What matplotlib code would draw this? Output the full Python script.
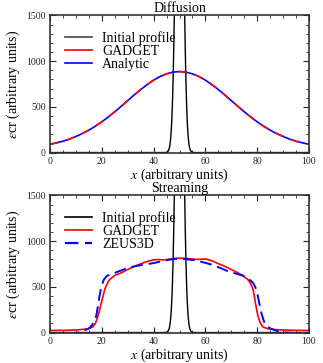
import numpy as np
import matplotlib
matplotlib.use("Agg")
import matplotlib.pyplot as plt
from matplotlib.lines import Line2D

plt.rcParams['font.family'] = ['Liberation Serif', 'DejaVu Serif']
plt.rcParams['mathtext.fontset'] = 'stix'

# ---- data ----
# initial profile (narrow peak at x=50)
init_x = [0, 44.5, 45, 45.25, 45.5, 45.75, 46, 46.25, 46.5, 46.75, 47, 47.25, 47.5, 47.75,
          48, 48.25, 48.5, 48.75, 49, 49.25, 49.5, 49.75, 50, 50.25, 50.5, 50.75, 51, 51.25,
          51.5, 51.75, 52, 52.25, 52.5, 52.75, 53, 53.25, 53.5, 53.75, 54, 54.25, 54.5, 54.75,
          55, 55.5, 100]
init_y = [0, 0, 3, 6, 12, 23, 42, 74, 128, 211, 337, 518, 766, 1092,
          1500, 1984, 2529, 3105, 3673, 4185, 4594, 4858, 4950, 4858, 4594, 4185, 3673, 3105,
          2529, 1984, 1500, 1092, 766, 518, 337, 211, 128, 74, 42, 23, 12, 6,
          3, 0, 0]

# diffusion: GADGET and analytic solution
diff_x = [0, 2.5, 5, 7.5, 10, 12.5, 15, 17.5, 20, 22.5, 25, 27.5, 30, 32.5, 35, 37.5, 40,
          42.5, 45, 47.5, 50, 52.5, 55, 57.5, 60, 62.5, 65, 67.5, 70, 72.5, 75, 77.5, 80,
          82.5, 85, 87.5, 90, 92.5, 95, 97.5, 100]
diff_gadget = [90, 106, 124, 147, 176, 208, 245, 288, 336, 389, 446, 506, 568, 630, 689, 743,
               792, 832, 861, 880, 886, 880, 861, 832, 792, 743, 689, 630, 568, 506, 446, 389,
               336, 288, 245, 208, 176, 147, 124, 106, 90]
diff_analytic = [90, 106, 124, 147, 176, 208, 245, 288, 336, 389, 446, 506, 568, 630, 689, 743,
                 792, 832, 861, 880, 886, 880, 861, 832, 792, 743, 689, 630, 568, 506, 446, 389,
                 336, 288, 245, 208, 176, 147, 124, 106, 90]

# streaming: GADGET and ZEUS3D
str_gadget_x = [0, 5, 10, 14.7, 16.6, 17.6, 18.5, 19.2, 19.8, 20.5, 21.1, 22, 23, 25, 27.5, 30,
                32.7, 35, 37.8, 40, 41.7, 43.5, 45.6, 48, 50, 52, 54.4, 56.5, 58.3, 60, 61,
                63, 64.9, 66.8, 68.7, 70.6, 72.6, 74.5, 76.4, 77.5, 78.4, 78.9, 79.3, 79.8, 80.3,
                81.2, 82.2, 84, 86.8, 90, 95, 100]
str_gadget = [22, 24, 28, 40, 62, 105, 178, 250, 325, 400, 470, 530, 580, 625, 653, 690,
              725, 752, 780, 795, 799, 795, 800, 810, 815, 812, 806, 800, 802, 805, 799,
              780, 755, 733, 708, 681, 653, 620, 580, 535, 470, 400, 325, 250, 178,
              105, 62, 42, 33, 28, 24, 22]
str_zeus_x = [0, 5, 10, 12, 13.5, 15.3, 16.3, 17.2, 17.9, 18.5, 19, 19.6, 20.2, 20.8, 22, 23.5,
              25, 27.5, 30.1, 33, 36.6, 40, 43, 46, 48.1, 50, 52, 54, 55.9, 59, 62.3, 65.5,
              68.7, 72, 75.2, 76.8, 78.4, 79.3, 80, 80.8, 81.6, 82.4, 83.1, 84.2, 85.4, 88,
              90, 95, 100]
str_zeus = [-5, -5, -4, 5, 25, 51, 85, 124, 190, 288, 380, 470, 530, 580, 620, 640,
            653, 680, 708, 727, 744, 760, 780, 797, 806, 808, 804, 798, 791, 770, 744, 710,
            671, 643, 616, 585, 544, 495, 434, 320, 215, 140, 88, 60, 40, 14,
            2, -5, -5]

xticks = [0, 20, 40, 60, 80, 100]
yticks = [0, 500, 1000, 1500]

W, H = 323, 363
fig = plt.figure(figsize=(W / 100, H / 100), dpi=100)

def setup(ax, title):
    ax.set_xlim(0, 100)
    ax.set_ylim(-5, 1505)
    ax.set_xticks(xticks)
    ax.set_yticks(yticks)
    ax.set_xticks(np.arange(0, 101, 5), minor=True)
    ax.set_yticks(np.arange(0, 1501, 100), minor=True)
    ax.tick_params(which='both', direction='in', top=True, right=True, labelsize=7,
                   pad=3, colors='#222222')
    ax.tick_params(which='major', length=4, width=0.8)
    ax.tick_params(which='minor', length=2, width=0.6)
    for s in ax.spines.values():
        s.set_linewidth(1.2)
        s.set_color('#333333')
    ax.set_title(title, fontsize=10, pad=2)
    ax.set_xlabel(r'$x$ (arbitrary units)', fontsize=10, labelpad=0)
    ax.set_ylabel(r'$\varepsilon$cr (arbitrary units)', fontsize=10, labelpad=3)

ax1 = fig.add_axes([50 / W, 1 - 153 / H, 259 / W, 138 / H])
ax2 = fig.add_axes([50 / W, 1 - 333 / H, 259 / W, 138 / H])

leg_kw = dict(loc='upper left', frameon=False, fontsize=10, handlelength=2.0,
              handletextpad=0.7, labelspacing=0.0, bbox_to_anchor=(0.035, 0.925),
              borderaxespad=0)

# top panel
ax1.plot(init_x, init_y, color='black', lw=1.0)
ax1.plot(diff_x, diff_analytic, color='blue', lw=1.2)
ax1.plot(diff_x, diff_gadget, color='red', lw=1.2, dashes=(5, 5))
setup(ax1, 'Diffusion')
h1 = [Line2D([], [], color='#444444', lw=1.2), Line2D([], [], color='red', lw=1.2),
      Line2D([], [], color='blue', lw=1.2)]
ax1.legend(h1, ['Initial profile', 'GADGET', 'Analytic'], **leg_kw)

# bottom panel
ax2.plot(init_x, init_y, color='black', lw=1.0)
ax2.plot(str_gadget_x, str_gadget, color='red', lw=1.2)
ax2.plot(str_zeus_x, str_zeus, color='blue', lw=1.4, dashes=(6, 3))
setup(ax2, 'Streaming')
h2 = [Line2D([], [], color='black', lw=1.2), Line2D([], [], color='red', lw=1.2),
      Line2D([], [], color='blue', lw=1.6, dashes=(6, 3))]
ax2.legend(h2, ['Initial profile', 'GADGET', 'ZEUS3D'], **leg_kw)

fig.savefig('out.png', dpi=100)
